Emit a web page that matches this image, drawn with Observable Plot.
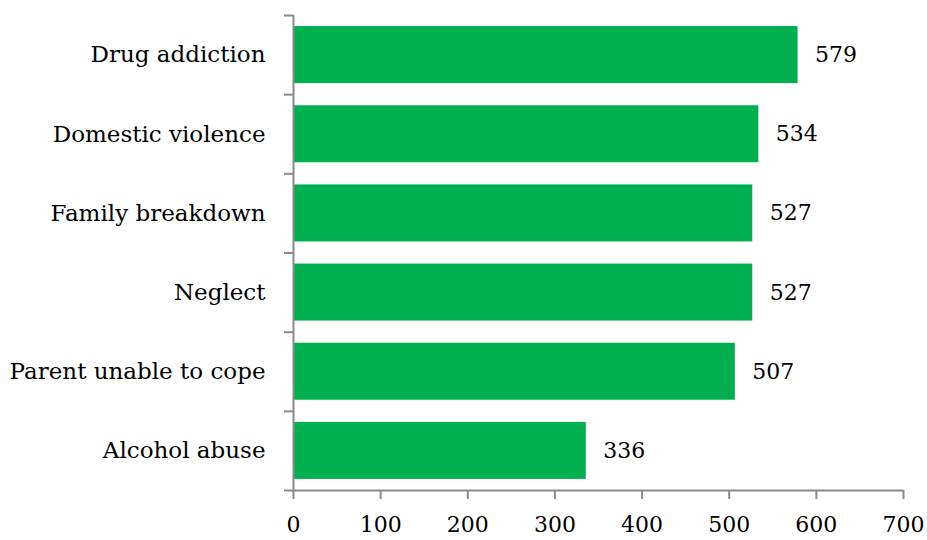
<!DOCTYPE html>
<html>
<head>
<meta charset="utf-8">
<script src="https://cdn.jsdelivr.net/npm/d3@7"></script>
<script src="https://cdn.jsdelivr.net/npm/@observablehq/plot@0.6"></script>
<style>
  html, body { margin: 0; padding: 0; background: #fff; }
</style>
</head>
<body>
<div id="chart"></div>
<script>
const categories = ["Drug addiction", "Domestic violence", "Family breakdown", "Neglect", "Parent unable to cope", "Alcohol abuse"];
const values = [579, 534, 527, 527, 507, 336];
const xTicks = [0, 100, 200, 300, 400, 500, 600, 700];

const data = categories.map((c, i) => ({c, v: values[i], i}));
const axisColor = "#8a8a8a";

const chart = Plot.plot({
  width: 927,
  height: 540,
  marginLeft: 293,
  marginRight: 24,
  marginTop: 15,
  marginBottom: 50,
  style: {fontFamily: "DejaVu Serif", fontSize: "22px", color: "#000", background: "#fff"},
  x: {domain: [0, 700]},
  y: {domain: [0, categories.length], reverse: true},
  marks: [
    Plot.rectX(data, {x1: 0, x2: "v", y1: d => d.i + 0.14, y2: d => d.i + 0.86, fill: "#00B050"}),
    Plot.ruleX([0], {stroke: axisColor, strokeWidth: 2}),
    Plot.ruleY([categories.length], {stroke: axisColor, strokeWidth: 2}),
    Plot.axisY({ticks: d3.range(categories.length + 1), tickFormat: () => "", tickSize: 9, stroke: axisColor, strokeWidth: 2, label: null}),
    Plot.axisX({ticks: xTicks, tickSize: 9, tickPadding: 17, stroke: axisColor, strokeWidth: 2, label: null, fontSize: 22}),
    Plot.text(data, {x: () => 0, y: d => d.i + 0.5, text: "c", textAnchor: "end", dx: -28, fontSize: 23, fill: "#000"}),
    Plot.text(data, {x: "v", y: d => d.i + 0.5, text: d => String(d.v), textAnchor: "start", dx: 17, fontSize: 22, fill: "#000"})
  ]
});
document.getElementById("chart").appendChild(chart);
</script>
</body>
</html>
